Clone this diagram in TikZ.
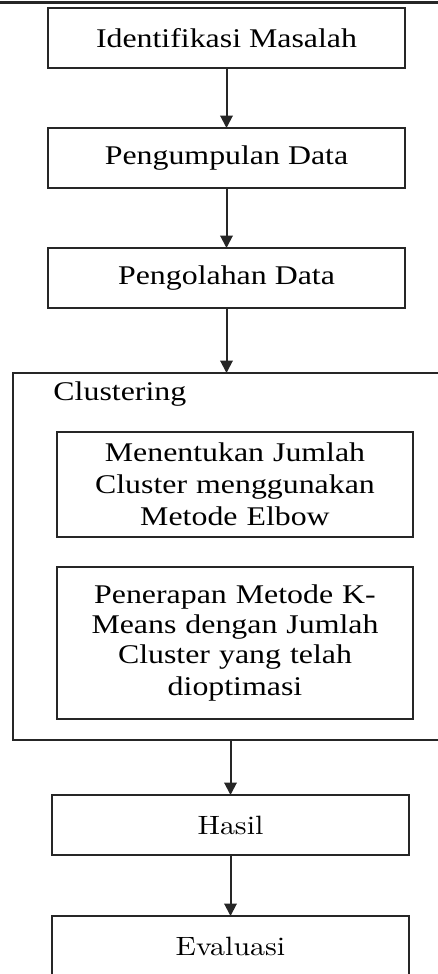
\documentclass[tikz,border=0pt]{standalone}
\usepackage{fontspec}
\newfontfamily\timesfont{Liberation Serif}[FakeStretch=1.18]
\newfontfamily\lmfont{lmroman10-regular}[Extension=.otf,FakeStretch=1.13]
\usetikzlibrary{arrows.meta,shapes,positioning}

\begin{document}
\begin{tikzpicture}[x=0.4pt,y=-0.4pt]
        \tikzstyle{stepbox}=[rectangle, draw=black!85, line width=0.8pt, minimum width=142.8pt, minimum height=24pt, outer sep=0pt, font=\timesfont\fontsize{10.8}{12.8}\selectfont, node distance=24pt]
        \tikzstyle{innerbox}=[stepbox, minimum width=142.4pt, text width=136pt, align=center]
        \tikzstyle{lmbox}=[stepbox, font=\lmfont\fontsize{10.6}{12.5}\selectfont]
        \tikzstyle{groupbox}=[rectangle, draw=black!85, line width=0.8pt, minimum width=170.8pt, minimum height=146.8pt, outer sep=0pt]
        \tikzstyle{grouptext}=[anchor=north west, inner sep=0pt, font=\timesfont\fontsize{10.8}{12.8}\selectfont]
        \tikzstyle{connect}=[-{Triangle[length=5pt,width=5pt]}, line width=0.8pt, draw=black!85]
        \useasboundingbox (0,0) rectangle (438,974);
        \clip (0,0) rectangle (438,974);
        \draw[line width=1.2pt, black!85] (0,2) -- (438,2);
        \node[stepbox] (ident) at (226.5,38) {Identifikasi Masalah};
        \node[stepbox] (kumpul) [below=of ident] {Pengumpulan Data};
        \node[stepbox] (olah) [below=of kumpul] {Pengolahan Data};
        \node[groupbox] (cluster) [below=26pt of olah] {};
        \node[grouptext] (clusterlabel) at ([xshift=16pt,yshift=-3.2pt]cluster.north west) {Clustering};
        \node[innerbox, minimum height=42pt] (elbow) at (235,484.5) {\baselineskip=12.8pt Menentukan Jumlah\\Cluster menggunakan\\Metode Elbow};
        \node[innerbox, minimum height=60.8pt] (kmeans) at (235,643) {\baselineskip=12pt Penerapan Metode K-\\Means dengan Jumlah\\Cluster yang telah\\dioptimasi};
        \node[lmbox] (hasil) at (230.5,825) {Hasil};
        \node[lmbox] (evaluasi) [below=24.4pt of hasil] {Evaluasi};
        \path (ident) edge [connect] (kumpul)
        (kumpul) edge [connect] (olah)
        (olah) edge [connect] (cluster);
        \draw[connect] (cluster.south -| hasil.north) -- (hasil.north);
        \draw[connect] (hasil) -- (evaluasi);
      \end{tikzpicture}
\end{document}
